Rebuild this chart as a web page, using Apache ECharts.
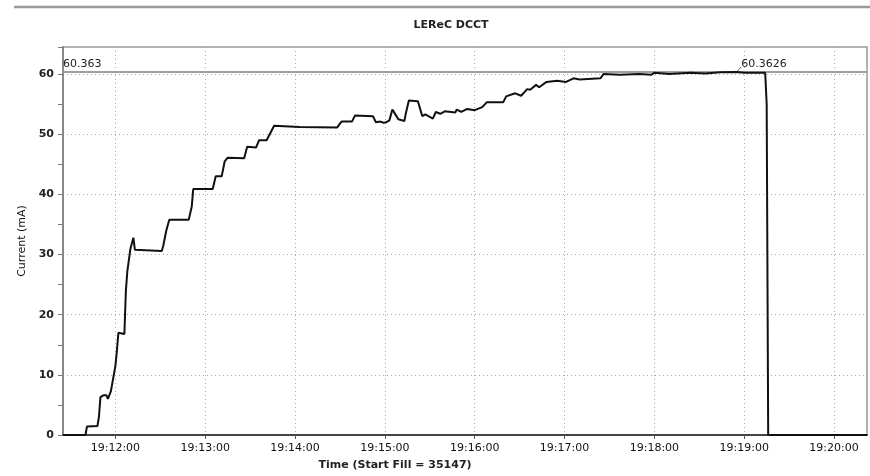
<!DOCTYPE html>
<html>
<head>
<meta charset="utf-8">
<script src="https://cdn.jsdelivr.net/npm/echarts@6/dist/echarts.min.js"></script>
<style>
html,body{margin:0;padding:0;background:#fff;}
#chart{width:870px;height:476px;}
</style>
</head>
<body>
<div id="chart"></div>
<script>
// ---- data ----
const chartTitle = 'LEReC DCCT';
const xAxisName = 'Time (Start Fill = 35147)';
const yAxisName = 'Current (mA)';
const xRange = ['19:11:25', '19:20:22'];
const yTicks = [0, 10, 20, 30, 40, 50, 60];
const refValue = 60.363;
const peakTime = '19:18:55';
const peakValue = 60.3626;

const times = [
  '19:11:25','19:11:40','19:11:41','19:11:48','19:11:49','19:11:50','19:11:52','19:11:54','19:11:55','19:11:56',
  '19:11:57','19:11:58','19:12:00','19:12:01','19:12:02','19:12:06','19:12:07','19:12:08','19:12:09','19:12:10',
  '19:12:11','19:12:12','19:12:13','19:12:31','19:12:32','19:12:34','19:12:36','19:12:49','19:12:51','19:12:52',
  '19:13:05','19:13:07','19:13:11','19:13:13','19:13:15','19:13:26','19:13:28','19:13:34','19:13:36','19:13:41',
  '19:13:46','19:14:03','19:14:28','19:14:31','19:14:38','19:14:40','19:14:52','19:14:54','19:14:55','19:14:57',
  '19:14:59','19:15:01','19:15:03','19:15:05','19:15:07','19:15:09','19:15:13','19:15:14','19:15:16','19:15:22',
  '19:15:25','19:15:27','19:15:32','19:15:34','19:15:37','19:15:40','19:15:47','19:15:48','19:15:51','19:15:55',
  '19:16:00','19:16:05','19:16:08','19:16:19','19:16:21','19:16:27','19:16:31','19:16:35','19:16:37','19:16:41',
  '19:16:43','19:16:48','19:16:55','19:17:01','19:17:06','19:17:10','19:17:24','19:17:26','19:17:37','19:17:50',
  '19:17:58','19:18:00','19:18:10','19:18:24','19:18:34','19:18:44','19:18:55','19:19:00','19:19:14','19:19:15',
  '19:19:16','19:20:22'
];
const current = [
  0, 0, 1.4, 1.5, 3, 6.3, 6.6, 6.6, 6.0, 6.0,
  7.3, 7.4, 11.5, 14, 17, 16.8, 24, 27.3, 27.6, 30.9,
  30.8, 32.8, 30.8, 30.6, 31.5, 34, 35.8, 35.8, 38, 40.9,
  40.9, 43, 43, 45.5, 46.1, 46, 47.9, 47.8, 49.0, 49.0,
  51.4, 51.2, 51.1, 52.1, 52.1, 53.1, 53.0, 52.0, 51.8, 52.1,
  51.9, 52.0, 52.3, 54.1, 53.3, 52.5, 52.2, 53.5, 55.6, 55.5,
  53.0, 53.3, 52.6, 53.7, 53.4, 53.8, 53.6, 54.1, 53.7, 54.2,
  54.0, 54.5, 55.3, 55.3, 56.3, 56.8, 56.4, 57.5, 57.4, 58.2,
  57.8, 58.7, 58.9, 58.7, 59.3, 59.1, 59.3, 60.0, 59.9, 60.0,
  59.9, 60.2, 60.0, 60.2, 60.1, 60.3, 60.36, 60.2, 60.2, 55,
  0, 0
];

// ---- helpers ----
function toDate(t){
  const p = t.split(':').map(Number);
  return new Date(2019, 0, 1, p[0], p[1], p[2]).getTime();
}
function pad(n){ return (n < 10 ? '0' : '') + n; }

const seriesData = times.map((t, i) => [toDate(t), current[i]]);
const fontFam = 'DejaVu Sans';

const chart = echarts.init(document.getElementById('chart'), null, {renderer: 'canvas'});
chart.setOption({
  animation: false,
  backgroundColor: '#ffffff',
  title: {
    text: chartTitle,
    left: 446, top: 15, textAlign: 'center',
    textStyle: {fontFamily: fontFam, fontSize: 11, fontWeight: 'bold', color: '#222'}
  },
  graphic: [{
    type: 'line', shape: {x1: 14, y1: 7, x2: 870, y2: 7},
    style: {stroke: '#9a9a9a', lineWidth: 2.5}
  }],
  grid: {
    left: 63, right: 3, top: 47, bottom: 36,
    show: true, borderColor: '#9a9a9a', borderWidth: 1.5, backgroundColor: 'transparent'
  },
  xAxis: {
    type: 'time',
    min: toDate(xRange[0]), max: toDate(xRange[1]),
    minInterval: 60000, maxInterval: 60000, splitNumber: 9,
    name: xAxisName, nameLocation: 'middle', nameGap: 25,
    nameTextStyle: {fontFamily: fontFam, fontSize: 11, fontWeight: 'bold', color: '#222', padding: [0, 140, 0, 0]},
    axisLine: {show: true, lineStyle: {color: '#444', width: 2}},
    axisTick: {show: true, length: 4, inside: false, lineStyle: {color: '#555'}},
    axisLabel: {
      fontFamily: fontFam, fontSize: 11, color: '#111', margin: 8,
      showMinLabel: false, showMaxLabel: false,
      formatter: function(v){
        const d = new Date(v);
        if (d.getSeconds() !== 0) return '';
        return pad(d.getHours()) + ':' + pad(d.getMinutes()) + ':' + pad(d.getSeconds());
      }
    },
    splitLine: {show: true, lineStyle: {color: '#aaaaaa', type: [1, 3], width: 1}}
  },
  yAxis: [{
    type: 'value', min: 0, max: 64.5, interval: 10,
    name: yAxisName, nameLocation: 'middle', nameGap: 26,
    nameTextStyle: {fontFamily: fontFam, fontSize: 11, color: '#111'},
    axisLine: {show: true, lineStyle: {color: '#888', width: 2}},
    axisTick: {show: true, length: 5, lineStyle: {color: '#777'}},
    minorTick: {show: false},
    axisLabel: {
      fontFamily: fontFam, fontSize: 11, fontWeight: 'bold', color: '#222', margin: 9,
      formatter: function(v){ return yTicks.indexOf(v) >= 0 ? String(v) : ''; }
    },
    splitLine: {show: true, lineStyle: {color: '#aaaaaa', type: [1, 3], width: 1}}
  }, {
    type: 'value', min: 0, max: 64.5, interval: 5, position: 'left',
    axisLine: {show: false},
    axisTick: {show: true, length: 5, lineStyle: {color: '#777'}},
    axisLabel: {show: false},
    splitLine: {show: false}
  }],
  series: [{
    type: 'line',
    data: seriesData,
    yAxisIndex: 0,
    showSymbol: false,
    symbol: 'none',
    lineStyle: {color: '#111', width: 2},
    z: 5,
    markLine: {
      silent: true, symbol: 'none',
      data: [
        {
          yAxis: refValue,
          lineStyle: {color: '#a0a0a0', width: 2, type: 'solid'},
          label: {show: true, position: 'insideStartTop', formatter: String(refValue), distance: [0, 2],
            fontFamily: fontFam, fontSize: 11, color: '#222'}
        },
        [
          {coord: [toDate(peakTime), peakValue], lineStyle: {color: '#666', width: 1, type: 'solid'}, label: {show: false}},
          {coord: [toDate(peakTime) + 3000, 61.2]}
        ]
      ]
    },
    markPoint: {
      symbol: 'circle', symbolSize: 0,
      data: [{
        coord: [toDate(peakTime) + 3000, 61.2],
        label: {show: true, position: 'right', distance: 0, offset: [0, -3], formatter: String(peakValue),
          fontFamily: fontFam, fontSize: 11, color: '#222'}
      }]
    }
  }]
});
</script>
</body>
</html>
